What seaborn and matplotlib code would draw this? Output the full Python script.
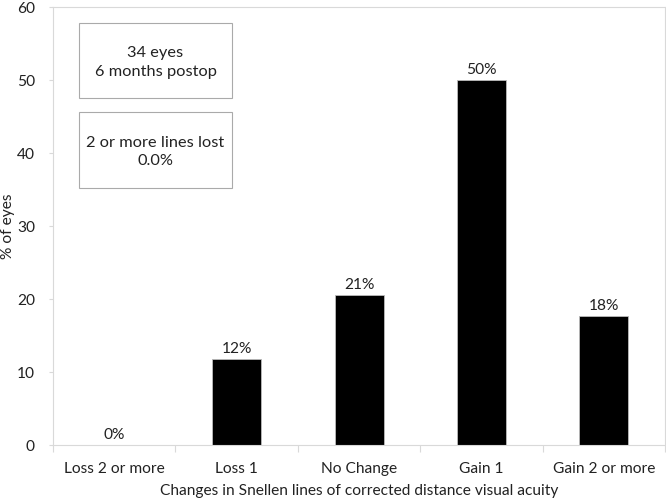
import matplotlib
matplotlib.use("Agg")
import matplotlib.pyplot as plt
import pandas as pd
import seaborn as sns
from matplotlib.patches import Rectangle

categories = ["Loss 2 or more", "Loss 1", "No Change", "Gain 1", "Gain 2 or more"]
percent_eyes = [0.0, 11.76, 20.59, 50.0, 17.65]
bar_labels = ["0%", "12%", "21%", "50%", "18%"]
y_ticks = [0, 10, 20, 30, 40, 50, 60]
info_boxes = ["34 eyes\n6 months postop", "2 or more lines lost\n0.0%"]

df = pd.DataFrame({"Change": categories, "Percent": percent_eyes})

sns.set_style("white")
plt.rcParams["font.family"] = ["Lato", "DejaVu Sans"]
FS = 11.2
TXT = "#222222"

fig = plt.figure(figsize=(6.66, 4.98), dpi=100)
ax = fig.add_axes([0.0796, 0.1064, 0.919, 0.8795])

sns.barplot(data=df, x="Change", y="Percent", color="black", width=0.4,
            edgecolor="#bbbbbb", linewidth=0.6, ax=ax, saturation=1)
ax.bar_label(ax.containers[0], labels=bar_labels, padding=2, fontsize=FS, color=TXT)

ax.set_ylim(0, 60)
ax.set_xlim(-0.5, len(categories) - 0.5)
ax.set_yticks(y_ticks)
ax.tick_params(axis="y", length=3, width=0.8, color="#d9d9d9", labelsize=FS,
               pad=10, labelcolor=TXT, left=True)
ax.tick_params(axis="x", which="major", length=0, labelsize=FS, pad=12, labelcolor=TXT)
ax.set_xticks([i - 0.5 for i in range(len(categories) + 1)], minor=True)
ax.tick_params(axis="x", which="minor", length=5, color="#d9d9d9", width=0.8, bottom=True)

for s in ax.spines.values():
    s.set_color("#d9d9d9")
    s.set_linewidth(0.8)

ax.set_xlabel("Changes in Snellen lines of corrected distance visual acuity",
              fontsize=FS, color=TXT)
ax.xaxis.set_label_coords(0.5, -0.104)
ax.xaxis.label.set_va("center")
ax.set_ylabel("% of eyes", fontsize=FS, color=TXT)
ax.yaxis.set_label_coords(-0.0735, 0.5)
ax.yaxis.label.set_va("center")

# annotation boxes (axes fraction)
box_spans = [(0.793, 0.963), (0.587, 0.760)]
for txt, (y0, y1) in zip(info_boxes, box_spans):
    ax.add_patch(Rectangle((0.0425, y0), 0.25, y1 - y0, transform=ax.transAxes,
                           facecolor="white", edgecolor="#aaaaaa", linewidth=0.8, zorder=3))
    ax.text(0.0425 + 0.25 / 2, (y0 + y1) / 2 - 0.005, txt, transform=ax.transAxes,
            ha="center", va="center", fontsize=11.8, color=TXT,
            linespacing=1.4, zorder=4)

fig.savefig("out.png", dpi=100)
